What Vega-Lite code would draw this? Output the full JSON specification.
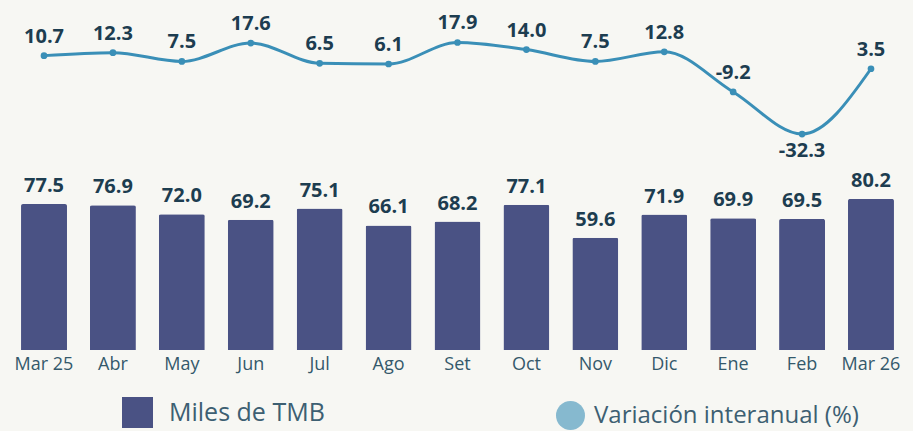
{
  "$schema": "https://vega.github.io/schema/vega-lite/v6.json",
  "autosize": {"type": "none"},
  "width": 895,
  "height": 350,
  "padding": {"left": 10, "top": 0, "right": 8, "bottom": 81},
  "background": "#f7f7f3",
  "config": {
    "view": {"stroke": null},
    "font": "Open Sans",
    "locale": {"number": {"decimal": ".", "thousands": ",", "grouping": [3], "currency": ["$", ""], "minus": "-"}}
  },
  "data": {
    "values": [
      {"mes": "Mar 25", "tmb": 77.5, "var": 10.7, "s1": "Miles de TMB", "s2": "Variación interanual (%)"},
      {"mes": "Abr", "tmb": 76.9, "var": 12.3, "s1": "Miles de TMB", "s2": "Variación interanual (%)"},
      {"mes": "May", "tmb": 72.0, "var": 7.5, "s1": "Miles de TMB", "s2": "Variación interanual (%)"},
      {"mes": "Jun", "tmb": 69.2, "var": 17.6, "s1": "Miles de TMB", "s2": "Variación interanual (%)"},
      {"mes": "Jul", "tmb": 75.1, "var": 6.5, "s1": "Miles de TMB", "s2": "Variación interanual (%)"},
      {"mes": "Ago", "tmb": 66.1, "var": 6.1, "s1": "Miles de TMB", "s2": "Variación interanual (%)"},
      {"mes": "Set", "tmb": 68.2, "var": 17.9, "s1": "Miles de TMB", "s2": "Variación interanual (%)"},
      {"mes": "Oct", "tmb": 77.1, "var": 14.0, "s1": "Miles de TMB", "s2": "Variación interanual (%)"},
      {"mes": "Nov", "tmb": 59.6, "var": 7.5, "s1": "Miles de TMB", "s2": "Variación interanual (%)"},
      {"mes": "Dic", "tmb": 71.9, "var": 12.8, "s1": "Miles de TMB", "s2": "Variación interanual (%)"},
      {"mes": "Ene", "tmb": 69.9, "var": -9.2, "s1": "Miles de TMB", "s2": "Variación interanual (%)"},
      {"mes": "Feb", "tmb": 69.5, "var": -32.3, "s1": "Miles de TMB", "s2": "Variación interanual (%)"},
      {"mes": "Mar 26", "tmb": 80.2, "var": 3.5, "s1": "Miles de TMB", "s2": "Variación interanual (%)"}
    ]
  },
  "encoding": {
    "x": {
      "field": "mes", "type": "ordinal", "sort": null,
      "scale": {"paddingInner": 0.333, "paddingOuter": 0.16},
      "axis": {
        "title": null, "domain": false, "ticks": false, "labelAngle": 0,
        "labelFontSize": 18, "labelColor": "#34596b", "labelPadding": 5,
        "labelFont": "Open Sans"
      }
    }
  },
  "layer": [
    {
      "mark": {"type": "bar", "cornerRadiusTopLeft": 2, "cornerRadiusTopRight": 2},
      "encoding": {
        "y": {"field": "tmb", "type": "quantitative", "scale": {"domain": [0, 185.8], "nice": false, "zero": true}, "axis": null},
        "color": {
          "field": "s1", "type": "nominal",
          "scale": {"range": ["#4a5284"]},
          "legend": {
            "title": null, "orient": "none", "legendX": 112, "legendY": 397,
            "padding": 0, "symbolType": "square", "symbolSize": 961,
            "labelFontSize": 25, "labelColor": "#3d5f72", "labelOffset": 16,
            "labelFont": "Open Sans", "symbolStrokeWidth": 0, "labelLimit": 500
          }
        }
      }
    },
    {
      "mark": {"type": "text", "dy": -18, "fontSize": 20, "fontWeight": "bold", "color": "#1d3d50", "baseline": "middle"},
      "encoding": {
        "y": {"field": "tmb", "type": "quantitative", "scale": {"domain": [0, 185.8], "nice": false, "zero": true}, "axis": null},
        "text": {"field": "tmb", "type": "quantitative", "format": ".1f"}
      }
    },
    {
      "layer": [
        {
          "mark": {"type": "line", "interpolate": "monotone", "color": "#3a8fb7", "strokeWidth": 3},
          "encoding": {
            "y": {"field": "var", "type": "quantitative", "scale": {"domain": [-150.7, 41.2], "nice": false, "zero": false}, "axis": null}
          }
        },
        {
          "mark": {"type": "point", "filled": true, "size": 45, "opacity": 1},
          "encoding": {
            "y": {"field": "var", "type": "quantitative", "axis": null},
            "color": {
              "field": "s2", "type": "nominal",
              "scale": {"range": ["#3a8fb7"]},
              "legend": {
                "title": null, "orient": "none", "legendX": 545, "legendY": 400,
                "padding": 0, "symbolType": "circle", "symbolSize": 841,
                "symbolOpacity": 0.6, "labelLimit": 500,
                "labelFontSize": 24, "labelColor": "#3d5f72", "labelOffset": 8,
                "labelFont": "Open Sans"
              }
            }
          }
        },
        {
          "transform": [{"filter": "datum.var > -30"}],
          "mark": {"type": "text", "dy": -19, "fontSize": 20, "fontWeight": "bold", "color": "#1d3d50", "baseline": "middle"},
          "encoding": {
            "y": {"field": "var", "type": "quantitative", "axis": null},
            "text": {"field": "var", "type": "quantitative", "format": ".1f"}
          }
        },
        {
          "transform": [{"filter": "datum.var <= -30"}],
          "mark": {"type": "text", "dy": 17, "fontSize": 20, "fontWeight": "bold", "color": "#1d3d50", "baseline": "middle"},
          "encoding": {
            "y": {"field": "var", "type": "quantitative", "axis": null},
            "text": {"field": "var", "type": "quantitative", "format": ".1f"}
          }
        }
      ]
    }
  ],
  "resolve": {"scale": {"y": "independent", "color": "independent"}}
}
